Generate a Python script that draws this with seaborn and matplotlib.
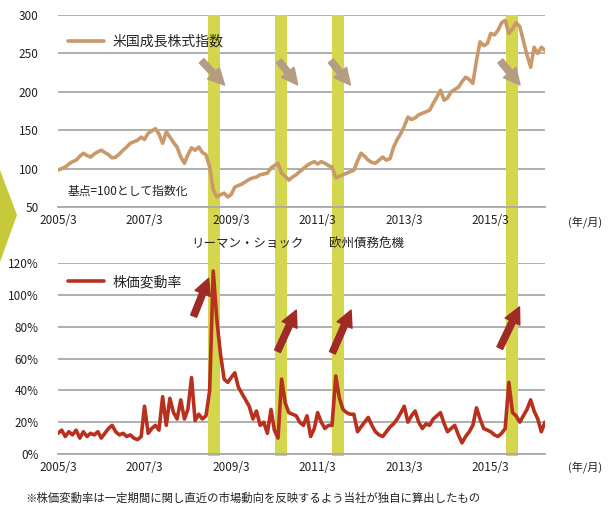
import pandas as pd
import matplotlib.pyplot as plt
import matplotlib.dates as mdates
from matplotlib.patches import Polygon
import seaborn as sns

sns.set_style('white')
plt.rcParams['font.family'] = ['Noto Sans CJK JP', 'DejaVu Sans']

# 月次データ 2005/3 〜 2016/6（グラフから読み取った概算値）
start_month = '2005-03-01'
growth_index = [
    98, 100, 102, 106, 109, 111, 116, 120, 117, 115,                 # 2005
    119, 122, 124, 121, 118, 114, 115, 119, 124, 128, 133, 135,      # 2006
    137, 141, 138, 146, 149, 152, 145, 133, 148, 141, 134, 128,      # 2007
    115, 107, 118, 127, 124, 128, 121, 118, 102, 72, 63, 66,         # 2008
    68, 63, 66, 76, 78, 80, 83, 86, 88, 89, 92, 93,                  # 2009
    94, 101, 104, 107, 94, 90, 85, 89, 92, 96, 100, 104,             # 2010
    107, 109, 106, 109, 107, 104, 102, 88, 90, 92, 94, 96,           # 2011
    98, 110, 120, 116, 111, 108, 107, 111, 115, 111, 113, 128,       # 2012
    138, 146, 155, 167, 164, 166, 170, 172, 174, 176, 185, 193,      # 2013
    202, 189, 192, 200, 203, 206, 213, 219, 216, 211, 241, 265,      # 2014
    260, 263, 276, 274, 280, 290, 293, 276, 282, 290, 285, 267,      # 2015
    248, 232, 258, 250, 258, 254,                                    # 2016
]
volatility = [
    13, 15, 11, 14, 12, 15, 10, 14, 11, 13,                          # 2005
    12, 14, 10, 13, 16, 18, 14, 12, 13, 11, 12, 10,                  # 2006
    9, 11, 30, 13, 16, 18, 15, 36, 18, 35, 26, 22,                   # 2007
    34, 22, 28, 48, 21, 25, 22, 24, 40, 115, 84, 63,                 # 2008
    47, 45, 48, 51, 42, 38, 34, 30, 22, 27, 18, 20,                  # 2009
    13, 28, 15, 10, 47, 32, 26, 25, 24, 20, 18, 24,                  # 2010
    11, 16, 26, 20, 16, 18, 18, 49, 35, 28, 26, 25,                  # 2011
    25, 14, 17, 20, 23, 18, 14, 12, 11, 14, 17, 19,                  # 2012
    22, 26, 30, 20, 24, 27, 20, 16, 19, 18, 22, 24,                  # 2013
    26, 19, 14, 16, 18, 12, 7, 11, 14, 18, 29, 22,                   # 2014
    16, 15, 14, 12, 11, 13, 16, 45, 26, 24, 20, 24,                  # 2015
    28, 34, 27, 22, 14, 20,                                          # 2016
]

# 相場急変の期間（黄色の帯）
crisis_start = ['2008-08-15', '2010-03-10', '2011-07-01', '2015-07-12']
crisis_end = ['2008-11-25', '2010-06-18', '2011-10-12', '2015-10-20']

# 矢印（始点日付, 終点日付）
arrow_x_from = ['2008-06-09', '2010-03-25', '2011-06-06', '2015-05-06']
arrow_x_to = ['2009-01-21', '2010-09-28', '2011-12-18', '2015-11-18']
up_x_from = ['2008-04-10', '2010-03-18', '2011-06-24', '2015-05-06']
up_x_to = ['2008-09-01', '2010-09-12', '2011-12-18', '2015-11-09']
up_y_from = [85, 63, 62, 65]
up_y_to = [112, 92, 92, 94]

tick_years = list(range(2005, 2017))
tick_labels = [f'{y}/3' if y % 2 == 1 else '' for y in tick_years]

df = pd.DataFrame({
    'date': pd.date_range(start_month, periods=len(growth_index), freq='MS'),
    'index': growth_index,
    'vol': volatility,
})

band_color = '#d4d74d'
grid_color = '#a9a9a9'
x_min, x_max = pd.Timestamp('2005-03-01'), pd.Timestamp('2016-06-01')
W, H = 608, 513

fig = plt.figure(figsize=(6.08, 5.13), dpi=100)

# 左端の矢羽
fig.patches.append(Polygon([(0, 1 - 170 / H), (17 / W, 1 - 215 / H), (0, 1 - 262 / H)],
                           closed=True, transform=fig.transFigure,
                           facecolor='#c6c93a', edgecolor='none'))

left, width = 58 / W, 487 / W

# 帯（2つのグラフをまたぐ）
ax_bg = fig.add_axes([left, 1 - 456 / H, width, (456 - 15) / H], zorder=0)
for s, e in zip(crisis_start, crisis_end):
    ax_bg.axvspan(pd.Timestamp(s), pd.Timestamp(e), color=band_color, lw=0)
ax_bg.set_xlim(x_min, x_max)
ax_bg.axis('off')

ax1 = fig.add_axes([left, 1 - 207 / H, width, 192 / H], zorder=1)
ax2 = fig.add_axes([left, 1 - 454 / H, width, 191 / H], zorder=1)

for ax in (ax1, ax2):
    ax.patch.set_alpha(0)
    for s, e in zip(crisis_start, crisis_end):
        ax.axvspan(pd.Timestamp(s), pd.Timestamp(e), color=band_color, lw=0, zorder=1.5)
    ax.set_xlim(x_min, x_max)
    ax.yaxis.grid(True, color=grid_color, lw=1.3)
    ax.set_axisbelow(True)
    for sp in ['top', 'right', 'left']:
        ax.spines[sp].set_visible(False)
    ax.spines['bottom'].set_color(grid_color)
    ax.spines['bottom'].set_linewidth(1.3)
    ax.set_xticks([pd.Timestamp(f'{y}-03-01') for y in tick_years])
    ax.set_xticklabels(tick_labels)
    ax.tick_params(axis='x', direction='in', length=3, color=grid_color, labelsize=8.5,
                   pad=5, labelcolor='#222222')
    ax.tick_params(axis='y', length=0, labelsize=8.5, pad=14, labelcolor='#222222')

# 上段：米国成長株式指数
sns.lineplot(data=df, x='date', y='index', ax=ax1, color='#c9996b', lw=2.6,
             label='米国成長株式指数', zorder=3)
ax1.set_ylim(50, 300)
ax1.set_yticks([50, 100, 150, 200, 250, 300])
ax1.set_xlabel('')
ax1.set_ylabel('')
ax1.legend(loc='center left', bbox_to_anchor=(0.0, 0.86), frameon=False,
           handlelength=2.6, handletextpad=0.6, borderaxespad=0.3, fontsize=10)
ax1.text(0.02, 0.08, '基点=100として指数化', transform=ax1.transAxes,
         fontsize=8.5, va='center', ha='left', color='#222222')
for xf, xt in zip(arrow_x_from, arrow_x_to):
    ax1.annotate('', xy=(pd.Timestamp(xt), 206), xytext=(pd.Timestamp(xf), 243),
                 arrowprops=dict(arrowstyle='simple,head_width=0.9,head_length=0.9,tail_width=0.35',
                                 color='#b59c84', mutation_scale=13), zorder=4)

# 下段：株価変動率
sns.lineplot(data=df, x='date', y='vol', ax=ax2, color='#b8311e', lw=2.6,
             label='株価変動率', zorder=3)
ax2.set_ylim(0, 120)
ax2.set_yticks(range(0, 121, 20))
ax2.set_yticklabels([f'{v}%' for v in range(0, 121, 20)])
ax2.set_xlabel('')
ax2.set_ylabel('')
ax2.legend(loc='center left', bbox_to_anchor=(0.0, 0.90), frameon=False,
           handlelength=2.6, handletextpad=0.6, borderaxespad=0.3, fontsize=10)
for xf, xt, yf, yt in zip(up_x_from, up_x_to, up_y_from, up_y_to):
    ax2.annotate('', xy=(pd.Timestamp(xt), yt), xytext=(pd.Timestamp(xf), yf),
                 arrowprops=dict(arrowstyle='simple,head_width=0.9,head_length=0.9,tail_width=0.35',
                                 color='#9e2b25', mutation_scale=13), zorder=4)

# 注記
fig.text(585 / W, 1 - 222 / H, '(年/月)', fontsize=8, ha='center', va='center', color='#222222')
fig.text(585 / W, 1 - 467 / H, '(年/月)', fontsize=8, ha='center', va='center', color='#222222')
fig.text(247 / W, 1 - 243 / H, 'リーマン・ショック', fontsize=9, ha='center', va='center', color='#222222')
fig.text(366 / W, 1 - 243 / H, '欧州債務危機', fontsize=9, ha='center', va='center', color='#222222')
fig.text(25 / W, 1 - 498 / H,
         '※株価変動率は一定期間に関し直近の市場動向を反映するよう当社が独自に算出したもの',
         fontsize=8.2, ha='left', va='center', color='#222222')

fig.savefig('out.png', dpi=100, facecolor='white')
